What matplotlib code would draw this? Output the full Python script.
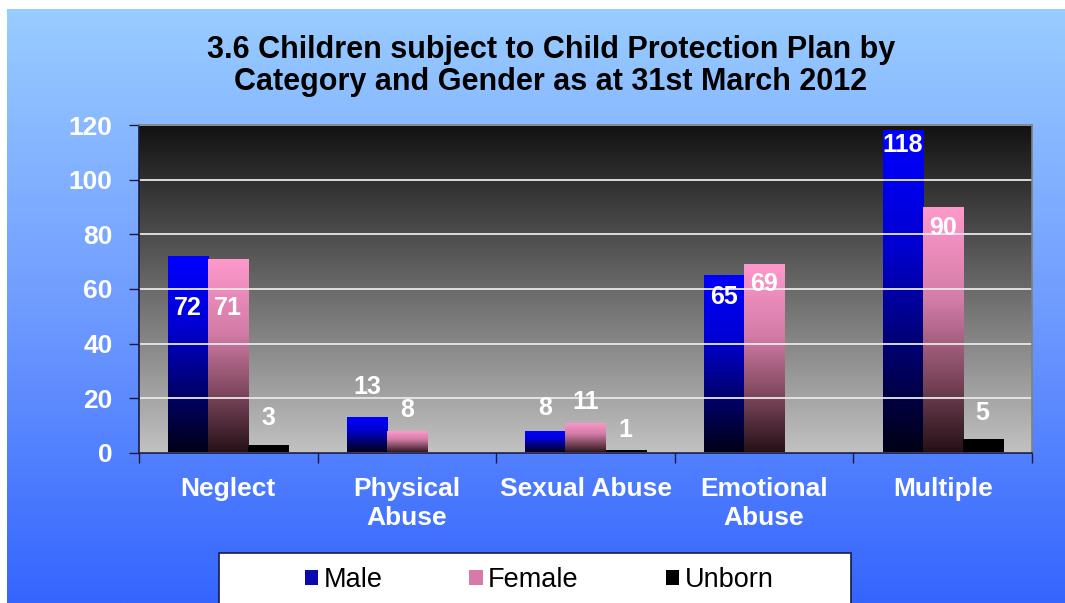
import numpy as np
from matplotlib import pyplot as plt
from matplotlib.colors import LinearSegmentedColormap
from matplotlib.patches import Patch, Rectangle

plt.rcParams['font.family'] = ['Liberation Sans', 'DejaVu Sans']

# data
categories = ['Neglect', 'Physical\nAbuse', 'Sexual Abuse', 'Emotional\nAbuse', 'Multiple']
male = [72, 13, 8, 65, 118]
female = [71, 8, 11, 69, 90]
unborn = [3, 0, 1, 0, 5]
series_names = ['Male', 'Female', 'Unborn']

# where the value labels sit (data units), as placed in the original
male_label_y = [53, 24, 16.5, 57, 112.7]
female_label_y = [53, 15.7, 18.7, 62, 82.3]
unborn_label_y = [12.8, 0, 8.4, 0, 14.6]

W, H = 1065, 603
fig = plt.figure(figsize=(W / 100, H / 100), dpi=100)
fig.patch.set_facecolor('white')

# blue page background (light at top, deep at bottom)
grad = np.linspace(0, 1, 256).reshape(-1, 1)
bg = fig.add_axes([7 / W, 0, (W - 7) / W, (H - 9) / H], zorder=-10)
bgCmap = LinearSegmentedColormap.from_list('bg', ['#3565fe', '#6f9cff', '#99ccff'])
bg.imshow(grad, cmap=bgCmap, aspect='auto', extent=[0, 1, 0, 1], origin='lower')
bg.axis('off')

ax = fig.add_axes([139 / W, 1 - 453 / H, (1032 - 139) / W, (453 - 125) / H])

# dark-to-light plot area
plotCmap = LinearSegmentedColormap.from_list('plot', ['#c2c2c2', '#121212'])
ax.imshow(grad, cmap=plotCmap, aspect='auto', extent=[0, 1, 0, 1], origin='lower',
          transform=ax.transAxes, zorder=0.1)

x = np.arange(len(categories))
width = 0.224
blueStops = [(0, '#000014'), (0.35, '#000078'), (0.65, '#0000d4'), (1, '#0000ff')]
pinkStops = [(0, '#241016'), (0.3, '#7c465c'), (0.62, '#d27ca7'), (1, '#ff99cc')]
blackStops = [(0, '#000000'), (1, '#000000')]
barSets = [
    (male, -width, blueStops, male_label_y),
    (female, 0, pinkStops, female_label_y),
    (unborn, width, blackStops, unborn_label_y),
]

for vals, off, stops, labY in barSets:
    bars = ax.bar(x + off, vals, width, color='none', edgecolor='none', zorder=2)
    cmap = LinearSegmentedColormap.from_list('b', stops)
    for b in bars:
        if b.get_height() <= 0:
            continue
        im = ax.imshow(grad, cmap=cmap, aspect='auto', origin='lower', zorder=2,
                       extent=[b.get_x(), b.get_x() + b.get_width(), 0, b.get_height()])
        im.set_clip_path(b)
    for xi, v, ly in zip(x + off, vals, labY):
        if v > 0:
            ax.text(xi, ly, str(v), ha='center', va='center', color='white',
                    fontsize=18, fontweight='bold', zorder=3)

ax.set_xlim(-0.5, len(categories) - 0.5)
ax.set_ylim(0, 120)
ax.set_yticks(range(0, 121, 20))
ax.yaxis.grid(True, color='#e8e8e8', linewidth=1.3)
ax.set_axisbelow(False)
for gl in ax.get_ygridlines():
    gl.set_zorder(1)

ax.set_xticks(x)
ax.set_xticklabels(categories, linespacing=1.3)
ax.set_xticks(np.arange(-0.5, len(categories)), minor=True)
ax.tick_params(axis='x', which='major', length=0, pad=17, labelsize=19, labelcolor='white')
ax.tick_params(axis='x', which='minor', length=7, width=1, color='#1a1a40')
ax.tick_params(axis='y', length=7, width=1, color='#1a1a40', pad=12, labelsize=19,
               labelcolor='white')
for lab in ax.get_xticklabels() + ax.get_yticklabels():
    lab.set_fontweight('bold')

ax.spines['left'].set_color('#1a1a40')
ax.spines['bottom'].set_color('#1a1a40')
ax.spines['top'].set_color('#808080')
ax.spines['right'].set_color('#808080')
for s in ax.spines.values():
    s.set_linewidth(1.2)
    s.set_zorder(4)

fig.text(551 / W, 1 - 66 / H,
         '3.6 Children subject to Child Protection Plan by\nCategory and Gender as at 31st March 2012',
         ha='center', va='center', fontsize=22, fontweight='bold', color='black',
         linespacing=1.1)

# legend box, clipped by the bottom edge like the original
fig.patches.append(Rectangle((219 / W, -0.02), (851 - 219) / W, 1 - 553 / H + 0.02,
                             transform=fig.transFigure, facecolor='white',
                             edgecolor='#1a1a40', linewidth=1.2, zorder=5))
handles = [Patch(facecolor='#0a0ab0'), Patch(facecolor='#d87aa8'), Patch(facecolor='black')]
leg = fig.legend(handles, series_names, loc='center', ncol=3, frameon=False,
                 bbox_to_anchor=(539 / W, 1 - 580 / H), fontsize=19.5,
                 handlelength=0.5, handleheight=0.5, handletextpad=0.2,
                 columnspacing=3.2)
leg.set_zorder(6)

fig.savefig('out.png', dpi=100)
